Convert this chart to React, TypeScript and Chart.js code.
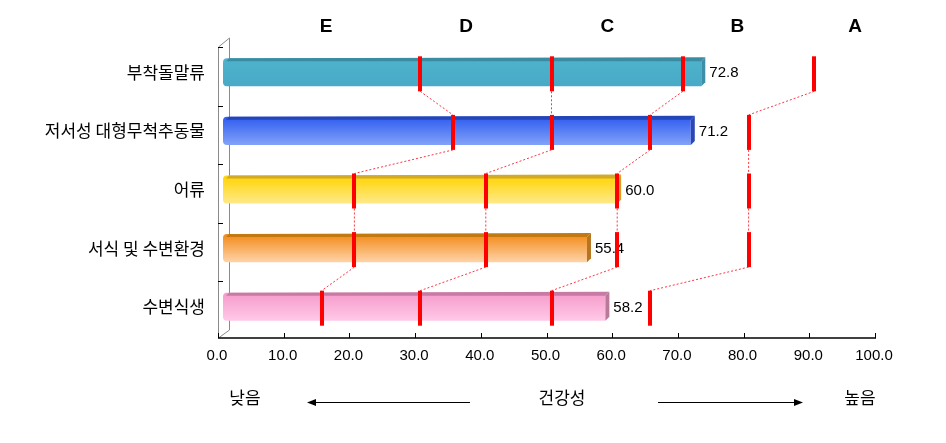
import React, { useEffect, useRef } from "react";
import { Chart, registerables } from "chart.js";

Chart.register(...registerables);

const categories = ["부착돌말류", "저서성 대형무척추동물", "어류", "서식 및 수변환경", "수변식생"];
const scores = [72.8, 71.2, 60.0, 55.4, 58.2];
const boundaryED = [30, 35, 20, 20, 15];
const boundaryDC = [50, 50, 40, 40, 30];
const boundaryCB = [70, 65, 60, 60, 50];
const boundaryBA = [90, 80, 80, 80, 65];
const gradeLabels = ["E", "D", "C", "B", "A"];
const gradeLabelAt = [15.7, 37, 58.5, 78.3, 96.2];
const xTicks = [0, 10, 20, 30, 40, 50, 60, 70, 80, 90, 100];
const lowText = "낮음";
const midText = "건강성";
const highText = "높음";

const barFront = [
  ["#4fb3cd", "#48aac6"],
  ["#2f5cf0", "#82a2f8"],
  ["#ffd400", "#ffe98a"],
  ["#f28a18", "#ffd3a8"],
  ["#f59acb", "#ffc9e7"],
];
const barTop = ["#3a8ca3", "#2445b8", "#d0aa28", "#c47810", "#c77aa4"];
const barSide = ["#3e8ea8", "#2a47b5", "#c9a623", "#b77520", "#b87a98"];

const KFONT = '"Noto Sans CJK KR", "Noto Sans", sans-serif';
const NFONT = '"Liberation Sans", Arial, sans-serif';

export default function App() {
  const ref = useRef<HTMLCanvasElement | null>(null);

  useEffect(() => {
    const canvas = ref.current;
    if (!canvas) return;

    const decor = {
      id: "decor",
      beforeDatasetsDraw(chart: any) {
        const { ctx, chartArea: a } = chart;
        const xs = chart.scales.x;
        ctx.save();
        const fx = a.left - 5;
        const bx = a.left + 6;
        const ft = a.top + 4;
        const bt = a.top - 5;
        const fb = a.bottom + 2;
        const bb = a.bottom - 6;
        ctx.strokeStyle = "#8a8a8a";
        ctx.lineWidth = 1;
        ctx.beginPath();
        ctx.moveTo(fx + 0.5, fb);
        ctx.lineTo(fx + 0.5, ft);
        ctx.lineTo(bx + 0.5, bt);
        ctx.lineTo(bx + 0.5, bb);
        ctx.lineTo(fx + 0.5, fb);
        ctx.stroke();
        ctx.strokeStyle = "#000";
        const n = categories.length;
        const band = (a.bottom - a.top) / n;
        for (let i = 0; i < n; i++) {
          const y = Math.round(a.top + 4 + i * band) + 0.5;
          ctx.beginPath();
          ctx.moveTo(fx, y);
          ctx.lineTo(fx + 5, y);
          ctx.stroke();
        }
        ctx.strokeStyle = "#000";
        ctx.lineWidth = 1.5;
        ctx.beginPath();
        ctx.moveTo(fx, fb);
        ctx.lineTo(xs.getPixelForValue(100) - 4, fb);
        ctx.stroke();
        ctx.lineWidth = 1;
        for (const v of xTicks) {
          const x = Math.round(xs.getPixelForValue(v) - 5) + 0.5;
          ctx.beginPath();
          ctx.moveTo(x, fb);
          ctx.lineTo(x, fb - 5);
          ctx.stroke();
        }
        ctx.restore();
      },
      afterDatasetsDraw(chart: any) {
        const { ctx } = chart;
        const xs = chart.scales.x;
        const ys = chart.scales.y;
        const meta = chart.getDatasetMeta(0);
        ctx.save();
        meta.data.forEach((bar: any, i: number) => {
          const h = bar.height;
          const top = bar.y - h / 2;
          const bot = bar.y + h / 2;
          const xEnd = bar.x;
          const xStart = bar.base;
          ctx.fillStyle = barTop[i];
          ctx.beginPath();
          ctx.moveTo(xStart + 3, top + 3);
          ctx.lineTo(xStart + 6, top);
          ctx.lineTo(xEnd + 4, top - 1);
          ctx.lineTo(xEnd, top + 3);
          ctx.closePath();
          ctx.fill();
          ctx.fillStyle = barSide[i];
          ctx.beginPath();
          ctx.moveTo(xEnd, top + 3);
          ctx.lineTo(xEnd + 4, top - 1);
          ctx.lineTo(xEnd + 4, bot - 4);
          ctx.lineTo(xEnd, bot);
          ctx.closePath();
          ctx.fill();
        });
        ctx.fillStyle = "#000";
        ctx.font = `15px ${NFONT}`;
        ctx.textAlign = "left";
        ctx.textBaseline = "middle";
        scores.forEach((v, i) => {
          ctx.fillText(v.toFixed(1), xs.getPixelForValue(v) + 8, ys.getPixelForValue(i) + 1);
        });
        const sets = [boundaryED, boundaryDC, boundaryCB, boundaryBA];
        const up = 16;
        const down = 19;
        ctx.strokeStyle = "#ff3344";
        ctx.lineWidth = 1;
        ctx.setLineDash([2, 2]);
        for (const s of sets) {
          for (let i = 0; i < s.length - 1; i++) {
            ctx.beginPath();
            ctx.moveTo(xs.getPixelForValue(s[i]), ys.getPixelForValue(i) + down);
            ctx.lineTo(xs.getPixelForValue(s[i + 1]), ys.getPixelForValue(i + 1) - up);
            ctx.stroke();
          }
        }
        ctx.setLineDash([]);
        ctx.fillStyle = "#ff0000";
        for (const s of sets) {
          s.forEach((v, i) => {
            const x = Math.round(xs.getPixelForValue(v));
            const yc = ys.getPixelForValue(i);
            ctx.fillRect(x - 2, yc - up, 4, up + down);
          });
        }
        ctx.fillStyle = "#000";
        ctx.font = `bold 19px ${NFONT}`;
        ctx.textAlign = "center";
        gradeLabels.forEach((g, i) => {
          ctx.fillText(g, xs.getPixelForValue(gradeLabelAt[i]), 27);
        });
        ctx.font = `17px ${KFONT}`;
        ctx.fillText(lowText, 245, 398);
        ctx.fillText(midText, 562, 398);
        ctx.fillText(highText, 860, 398);
        ctx.strokeStyle = "#000";
        ctx.lineWidth = 1;
        ctx.beginPath();
        ctx.moveTo(470, 402.5);
        ctx.lineTo(312, 402.5);
        ctx.moveTo(658, 402.5);
        ctx.lineTo(798, 402.5);
        ctx.stroke();
        ctx.beginPath();
        ctx.moveTo(307, 402.5);
        ctx.lineTo(316, 399);
        ctx.lineTo(316, 406);
        ctx.closePath();
        ctx.fill();
        ctx.beginPath();
        ctx.moveTo(803, 402.5);
        ctx.lineTo(794, 399);
        ctx.lineTo(794, 406);
        ctx.closePath();
        ctx.fill();
        ctx.restore();
      },
    };

    const chart = new Chart(canvas, {
      type: "bar",
      data: {
        labels: categories,
        datasets: [
          {
            data: scores,
            backgroundColor: (c: any) => {
              const chart = c.chart;
              const i = c.dataIndex ?? 0;
              const cols = barFront[i] || barFront[0];
              if (!chart.chartArea || !chart.scales.y) return cols[0];
              const yc = chart.scales.y.getPixelForValue(i);
              const g = chart.ctx.createLinearGradient(0, yc - 14, 0, yc + 14);
              g.addColorStop(0, cols[0]);
              g.addColorStop(1, cols[1]);
              return g;
            },
            borderWidth: 0,
            borderRadius: { topLeft: 4, bottomLeft: 4, topRight: 0, bottomRight: 0 },
            borderSkipped: false,
            barPercentage: 0.48,
            categoryPercentage: 1,
          },
        ],
      },
      plugins: [decor],
      options: {
        indexAxis: "y",
        responsive: false,
        animation: false,
        devicePixelRatio: 1,
        layout: { padding: { top: 43, right: 66, bottom: 0, left: 0 } },
        plugins: { legend: { display: false }, tooltip: { enabled: false } },
        scales: {
          x: {
            min: 0,
            max: 100,
            afterBuildTicks: (s: any) => {
              s.ticks = xTicks.map((v) => ({ value: v }));
            },
            afterFit: (s: any) => {
              s.height = 107;
            },
            ticks: {
              callback: (v: any) => Number(v).toFixed(1),
              color: "#000",
              font: { family: NFONT, size: 15 },
              labelOffset: -6,
              padding: 11,
              maxRotation: 0,
              autoSkip: false,
            },
            grid: { display: false, drawTicks: false },
            border: { display: false },
          },
          y: {
            afterFit: (s: any) => {
              s.width = 223;
            },
            ticks: {
              color: "#000",
              font: { family: KFONT, size: 17 },
              padding: 18,
            },
            grid: { display: false, drawTicks: false },
            border: { display: false },
          },
        },
      },
    } as any);

    return () => chart.destroy();
  }, []);

  return (
    <div style={{ position: "absolute", left: 0, top: 0, width: 946, height: 443, background: "#fff" }}>
      <canvas ref={ref} width={946} height={443} style={{ display: "block" }} />
    </div>
  );
}
